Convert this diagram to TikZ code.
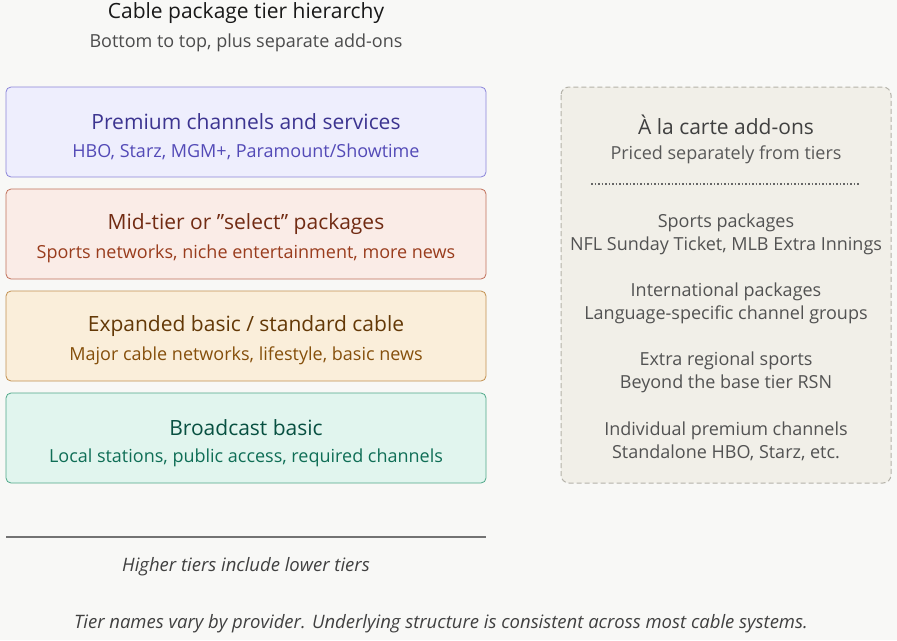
\documentclass[tikz,border=0pt]{standalone}
\usepackage{fontspec}
\setmainfont{Open Sans}
\begin{document}
\begin{tikzpicture}[x=1pt,y=-1pt,
  tier/.style={draw=#1,line width=0.8pt,rounded corners=5pt},
  ttl/.style={font=\fontsize{21}{23}\selectfont},
  sub/.style={font=\fontsize{18}{20}\selectfont},
  rtxt/.style={font=\fontsize{18}{23}\selectfont,align=center,text=black!68}]
\definecolor{bg}{HTML}{F8F8F6}
\definecolor{pf}{HTML}{EEEEFD}\definecolor{pd}{HTML}{8B85D9}\definecolor{pt}{HTML}{3C3490}\definecolor{ps}{HTML}{534AB7}
\definecolor{mf}{HTML}{FAECE7}\definecolor{md}{HTML}{C0705A}\definecolor{mt}{HTML}{712B13}\definecolor{ms}{HTML}{993C1D}
\definecolor{ef}{HTML}{FAEEDA}\definecolor{ed}{HTML}{C29050}\definecolor{et}{HTML}{633806}\definecolor{es}{HTML}{854F0B}
\definecolor{bf}{HTML}{E1F5EE}\definecolor{bd}{HTML}{4FA888}\definecolor{bt}{HTML}{085041}\definecolor{bs}{HTML}{0F6E56}
\definecolor{rf}{HTML}{F1EFE8}\definecolor{rd}{HTML}{B4B2A9}
\fill[bg] (0,0) rectangle (897,640);
\useasboundingbox (0,0) rectangle (897,640);
\node[ttl,text=black!90] (title) at (246,13) {Cable package tier hierarchy};
\node[sub,text=black!70] (stitle) at (246,43) {Bottom to top, plus separate add-ons};
% tiers
\draw[tier=pd,fill=pf] (6,87) rectangle (486,177);
\node[ttl,text=pt] (p1) at (246,122) {Premium channels and services};
\node[sub,text=ps] (p2) at (246,152) {HBO, Starz, MGM+, Paramount/Showtime};
\draw[tier=md,fill=mf] (6,189) rectangle (486,279);
\node[ttl,text=mt] (m1) at (246,224) {Mid-tier or \symbol{34}select\symbol{34} packages};
\node[sub,text=ms] (m2) at (246,254) {Sports networks, niche entertainment, more news};
\draw[tier=ed,fill=ef] (6,291) rectangle (486,381);
\node[ttl,text=et] (e1) at (246,326) {Expanded basic / standard cable};
\node[sub,text=es] (e2) at (246,356) {Major cable networks, lifestyle, basic news};
\draw[tier=bd,fill=bf] (6,393) rectangle (486,483);
\node[ttl,text=bt] (b1) at (246,428) {Broadcast basic};
\node[sub,text=bs] (b2) at (246,458) {Local stations, public access, required channels};
% right box
\draw[draw=rd,fill=rf,line width=1pt,dash pattern=on 5pt off 3pt,rounded corners=8pt] (561,87) rectangle (891,483);
\node[ttl,text=black!75] (r1) at (726,125) {À la carte add-ons};
\node[sub,text=black!65] (r2) at (726,155) {Priced separately from tiers};
\draw[black!60,line width=1.5pt,dash pattern=on 1.5pt off 2pt] (591,184) -- (860,184);
\node[rtxt] (a1) at (726,234) {Sports packages\\NFL Sunday Ticket, MLB Extra Innings};
\node[rtxt] (a2) at (726,303) {International packages\\Language-specific channel groups};
\node[rtxt] (a3) at (726,372) {Extra regional sports\\Beyond the base tier RSN};
\node[rtxt] (a4) at (726,441) {Individual premium channels\\Standalone HBO, Starz, etc.};
\draw[black!55,line width=1.5pt] (6,537) -- (486,537);
\node[font=\fontsize{18.5}{20}\selectfont\itshape,text=black!75] (h) at (246,567) {Higher tiers include lower tiers};
\node[font=\fontsize{18.5}{20}\selectfont\itshape,text=black!75] (f) at (441,624) {Tier names vary by provider. Underlying structure is consistent across most cable systems.};
\end{tikzpicture}
\end{document}
